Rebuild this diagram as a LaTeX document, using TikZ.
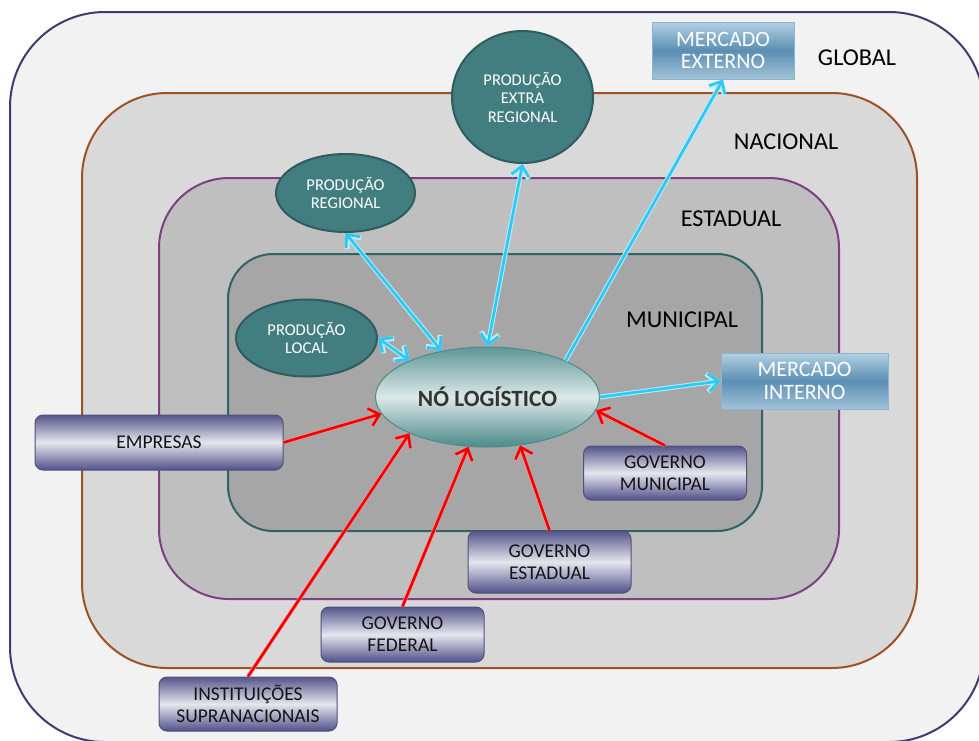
\documentclass[tikz,border=0pt]{standalone}
\usepackage{fontspec}
\setmainfont{Carlito}
\usetikzlibrary{shapes.geometric,arrows.meta}
\definecolor{gfill}{HTML}{F2F2F2}
\definecolor{gbd}{HTML}{3C3C6E}
\definecolor{nfill}{HTML}{D9D9D9}
\definecolor{nbd}{HTML}{9E5224}
\definecolor{efill}{HTML}{BFBFBF}
\definecolor{ebd}{HTML}{7F3F80}
\definecolor{mfill}{HTML}{A6A6A6}
\definecolor{mbd}{HTML}{2E6464}
\definecolor{circfill}{HTML}{427D80}
\definecolor{circbd}{HTML}{2F5D5F}
\definecolor{mkttop}{HTML}{B3D1E3}
\definecolor{mktmid}{HTML}{5B8EB3}
\definecolor{mktbot}{HTML}{A2C3D9}
\definecolor{mktbd}{HTML}{8DB4CF}
\definecolor{acttop}{HTML}{55558A}
\definecolor{actmid}{HTML}{E6E6EE}
\definecolor{actbot}{HTML}{50508A}
\definecolor{actbd}{HTML}{50507F}
\definecolor{notop}{HTML}{5E9696}
\definecolor{nomid}{HTML}{DCE8E8}
\definecolor{nobot}{HTML}{4C8A8A}
\definecolor{cyanarr}{HTML}{2EC8F5}
\definecolor{cyanhalo}{HTML}{B5EEFF}
\definecolor{redarr}{HTML}{F00000}
\definecolor{redhalo}{HTML}{FF9090}
\tikzset{
  region/.style={line width=2pt},
  lvl/.style={font=\fontsize{24.2}{26}\selectfont, text=black, inner sep=0},
  prod/.style={ellipse, draw=circbd, line width=2pt, fill=circfill, text=white, inner sep=0,
    font=\fontsize{16.5}{18.5}\selectfont, align=center},
  mkt/.style={rectangle, draw=mktbd, line width=1pt, top color=mkttop,
    bottom color=mktbot, middle color=mktmid, text=white, inner sep=0, font=\fontsize{22}{22.5}\selectfont, align=center},
  actor/.style={rectangle, rounded corners=8pt, draw=actbd, line width=1pt, top color=acttop,
    bottom color=actbot, middle color=actmid, text=black!92, inner sep=0,
    font=\fontsize{19.5}{22}\selectfont, align=center},
  cyarrow/.style={draw=cyanarr, line width=2.7pt,
    preaction={draw=cyanhalo, line width=4.7pt}},
  rdarrow/.style={draw=redarr, line width=2.6pt,
    preaction={draw=redhalo, line width=3.8pt}},
  tip/.style={-{Straight Barb[length=10pt,width=18pt]}},
  tips/.style={{Straight Barb[length=10pt,width=18pt]}-{Straight Barb[length=10pt,width=18pt]}}
}
\begin{document}
\begin{tikzpicture}[x=1pt,y=-1pt]
\useasboundingbox (0,0) rectangle (979,740);
\begin{scope}
  \clip (0,0) rectangle (979,740);
  \draw[region, draw=gbd, fill=gfill, rounded corners=95pt] (10,12) rectangle (984,742);
  \draw[region, draw=nbd, fill=nfill, rounded corners=85pt] (82,93) rectangle (917,668);
  \draw[region, draw=ebd, fill=efill, rounded corners=70pt] (159,178) rectangle (839,599);
  \draw[region, draw=mbd, fill=mfill, rounded corners=45pt] (228,254) rectangle (762,531);
\end{scope}

\node[lvl] (lglobal) at (857,58) {GLOBAL};
\node[lvl] (lnac) at (786,142) {NACIONAL};
\node[lvl] (lest) at (731,219) {ESTADUAL};
\node[lvl] (lmun) at (682,320) {MUNICIPAL};

\node[prod, minimum width=141pt, minimum height=77pt] (loc) at (306.5,338) {PRODUÇÃO\\LOCAL};
\node[prod, minimum width=139pt, minimum height=78pt] (reg) at (345.5,193) {PRODUÇÃO\\REGIONAL};
\node[prod, minimum width=141pt, minimum height=132pt] (ext) at (522.5,97) {PRODUÇÃO\\EXTRA\\REGIONAL};

\node[ellipse, draw=nobot, line width=1pt, top color=notop, bottom color=nobot, middle color=nomid,
  minimum width=224pt, minimum height=100pt, inner sep=0, text=black!80,
  font=\fontsize{23.3}{25}\selectfont\bfseries] (no) at (487.5,397) {NÓ LOGÍSTICO};

\node[mkt, minimum width=142pt, minimum height=57pt] (mext) at (723,50.5) {MERCADO\\EXTERNO};
\node[mkt, minimum width=167pt, minimum height=56pt] (mint) at (804.5,381) {MERCADO\\INTERNO};

\node[actor, minimum width=248pt, minimum height=55pt] (emp) at (159,442.5) {EMPRESAS};
\node[actor, minimum width=178pt, minimum height=54pt] (inst) at (248,704) {INSTITUIÇÕES\\SUPRANACIONAIS};
\node[actor, minimum width=163pt, minimum height=55pt] (gfed) at (402.5,634.5) {GOVERNO\\FEDERAL};
\node[actor, minimum width=163pt, minimum height=62pt] (gest) at (549.5,562) {GOVERNO\\ESTADUAL};
\node[actor, minimum width=163pt, minimum height=54pt] (gmun) at (665,473) {GOVERNO\\MUNICIPAL};

% cyan connectors
\draw[cyarrow, tips] (loc.east) -- (no.155);
\draw[cyarrow, tips] (reg.south) -- (no.135);
\draw[cyarrow, tips] (ext.south) -- (no.north);
\draw[cyarrow, tip] (no.25) -- (mext.south);
\draw[cyarrow, tip] (no.east) -- (mint.west);

% red connectors
\draw[rdarrow, tip] (emp.east) -- (no.189);
\draw[rdarrow, tip] (inst.north) -- (no.205);
\draw[rdarrow, tip] (gfed.north) -- (no.249);
\draw[rdarrow, tip] (gest.north) -- (no.304);
\draw[rdarrow, tip] (gmun.north) -- (no.353);
\end{tikzpicture}
\end{document}
